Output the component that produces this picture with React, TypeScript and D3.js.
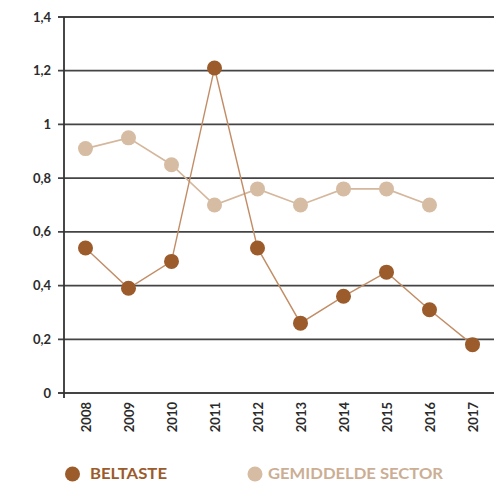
import React from "react";
import * as d3 from "d3";

const years = ["2008", "2009", "2010", "2011", "2012", "2013", "2014", "2015", "2016", "2017"];
const beltaste = [0.54, 0.39, 0.49, 1.21, 0.54, 0.26, 0.36, 0.45, 0.31, 0.18];
const sector: (number | null)[] = [0.91, 0.95, 0.85, 0.7, 0.76, 0.7, 0.76, 0.76, 0.7, null];
const yTicks = [0, 0.2, 0.4, 0.6, 0.8, 1, 1.2, 1.4];
const seriesNames = ["BELTASTE", "GEMIDDELDE SECTOR"];

const W = 497;
const H = 484;
const left = 64;
const right = 494;
const top = 17;
const bottom = 393;

const dark = "#9b5b2b";
const darkLine = "#c28d66";
const light = "#d6bca3";
const lightLine = "#d4b79c";
const font = "Lato, 'Open Sans', sans-serif";

export default function App() {
  const x = d3.scalePoint<string>().domain(years).range([left, right]).padding(0.5);
  const y = d3.scaleLinear().domain([0, 1.4]).range([bottom, top]);

  const lineB = d3
    .line<number>()
    .x((_, i) => x(years[i])!)
    .y((d) => y(d));
  const lineS = d3
    .line<number | null>()
    .defined((d) => d != null)
    .x((_, i) => x(years[i])!)
    .y((d) => y(d as number));

  const fmt = (v: number) => (v === 0 ? "0" : v === 1 ? "1" : String(+v.toFixed(1)).replace(".", ","));

  return (
    <svg
      width={W}
      height={H}
      style={{ position: "absolute", left: 0, top: 0, background: "#fff" }}
    >
      {yTicks.map((t) => (
        <g key={t}>
          <line x1={58} x2={right} y1={y(t)} y2={y(t)} stroke="#444" strokeWidth={1.8} />
          <text
            x={51}
            y={y(t)}
            dy="0.35em"
            textAnchor="end"
            fontFamily={font}
            fontWeight={700}
            fontSize={13}
            fill="#2b2b2b"
          >
            {fmt(t)}
          </text>
        </g>
      ))}
      <line x1={left} x2={left} y1={top} y2={bottom + 5} stroke="#333" strokeWidth={1.8} />
      {years.map((yr) => (
        <text
          key={yr}
          transform={`translate(${x(yr)! + 1},${bottom + 9}) rotate(-90)`}
          textAnchor="end"
          dy="0.35em"
          fontFamily={font}
          fontWeight={700}
          fontSize={13}
          fill="#2b2b2b"
        >
          {yr}
        </text>
      ))}
      <path d={lineS(sector) || ""} fill="none" stroke={lightLine} strokeWidth={1.6} />
      {sector.map((v, i) =>
        v == null ? null : <circle key={"s" + i} cx={x(years[i])} cy={y(v)} r={7.5} fill={light} />
      )}
      <path d={lineB(beltaste) || ""} fill="none" stroke={darkLine} strokeWidth={1.4} />
      {beltaste.map((v, i) => (
        <circle key={"b" + i} cx={x(years[i])} cy={y(v)} r={7.5} fill={dark} />
      ))}
      <g>
        <circle cx={72.5} cy={474} r={7.5} fill={dark} />
        <text
          x={90}
          y={474}
          dy="0.36em"
          fontFamily={font}
          fontWeight={700}
          fontSize={15}
          fill={dark}
          textLength={77}
          lengthAdjust="spacingAndGlyphs"
        >
          {seriesNames[0]}
        </text>
        <circle cx={255} cy={474} r={7.5} fill={light} />
        <text
          x={268}
          y={474}
          dy="0.36em"
          fontFamily={font}
          fontWeight={700}
          fontSize={15}
          fill="#cbae94"
          textLength={175}
          lengthAdjust="spacingAndGlyphs"
        >
          {seriesNames[1]}
        </text>
      </g>
    </svg>
  );
}
